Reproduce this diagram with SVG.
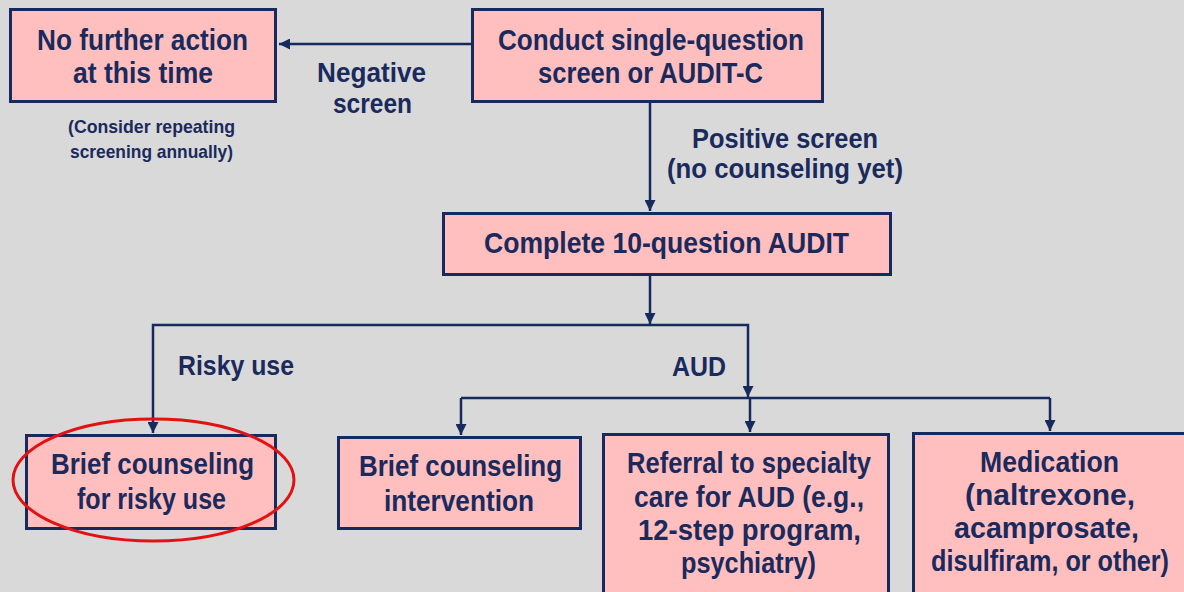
<svg xmlns="http://www.w3.org/2000/svg" width="1184" height="592" viewBox="0 0 1184 592">
<style>
.box{fill:#ffbfbf;stroke:#172a5e;stroke-width:3}
.t{font-family:"Liberation Sans",Arial,sans-serif;font-weight:bold;fill:#1a2a5c;text-anchor:middle;font-size:30px}
.lb{font-size:28px}
.sm{font-size:19px}
.c{fill:none;stroke:#172a5e;stroke-width:2.5}
</style>
<defs>
<marker id="ah" markerUnits="userSpaceOnUse" markerWidth="11" markerHeight="11" refX="10" refY="5" orient="auto" viewBox="0 0 10 10">
<path d="M0,0 L10,5 L0,10 z" fill="#172a5e"/>
</marker>
</defs>
<rect width="1184" height="592" fill="#d9d9d9"/>
<g id="connectors">
<path class="c" d="M471,44 H279" marker-end="url(#ah)"/>
<path class="c" d="M650,103 V211" marker-end="url(#ah)"/>
<path class="c" d="M650,276 V324" marker-end="url(#ah)"/>
<path class="c" d="M650,325 H153 V433" marker-end="url(#ah)"/>
<path class="c" d="M650,325 H748 V397" marker-end="url(#ah)"/>
<path class="c" d="M461,398 H1050"/>
<path class="c" d="M461,398 V435" marker-end="url(#ah)"/>
<path class="c" d="M750,398 V432" marker-end="url(#ah)"/>
<path class="c" d="M1050,398 V431" marker-end="url(#ah)"/>
<text class="t lb" x="371.5" y="82" textLength="109" lengthAdjust="spacingAndGlyphs">Negative</text>
<text class="t lb" x="372.5" y="113" textLength="79" lengthAdjust="spacingAndGlyphs">screen</text>
<text class="t lb" x="785" y="148" textLength="186" lengthAdjust="spacingAndGlyphs">Positive screen</text>
<text class="t lb" x="785" y="178" textLength="236" lengthAdjust="spacingAndGlyphs">(no counseling yet)</text>
<text class="t lb" x="236" y="375" textLength="116" lengthAdjust="spacingAndGlyphs">Risky use</text>
<text class="t lb" x="699" y="376" textLength="54" lengthAdjust="spacingAndGlyphs">AUD</text>
</g>
<g id="n1">
<rect class="box" x="10.5" y="9.5" width="265" height="92"/>
<text class="t" x="142.5" y="50" textLength="211" lengthAdjust="spacingAndGlyphs">No further action</text>
<text class="t" x="143" y="83" textLength="140" lengthAdjust="spacingAndGlyphs">at this time</text>
<text class="t sm" x="151.5" y="133" textLength="167" lengthAdjust="spacingAndGlyphs">(Consider repeating</text>
<text class="t sm" x="151.5" y="158" textLength="163" lengthAdjust="spacingAndGlyphs">screening annually)</text>
</g>
<g id="n2">
<rect class="box" x="472.5" y="9.5" width="350" height="92"/>
<text class="t" x="651" y="50" textLength="306" lengthAdjust="spacingAndGlyphs">Conduct single-question</text>
<text class="t" x="650.5" y="83" textLength="225" lengthAdjust="spacingAndGlyphs">screen or AUDIT-C</text>
</g>
<g id="n3">
<rect class="box" x="443.5" y="213.5" width="447" height="61"/>
<text class="t" x="666.5" y="253" textLength="365" lengthAdjust="spacingAndGlyphs">Complete 10-question AUDIT</text>
</g>
<g id="n4">
<rect class="box" x="26.5" y="435.5" width="249" height="93"/>
<text class="t" x="152.5" y="474" textLength="203" lengthAdjust="spacingAndGlyphs">Brief counseling</text>
<text class="t" x="151.5" y="509" textLength="149" lengthAdjust="spacingAndGlyphs">for risky use</text>
<ellipse cx="153.5" cy="480" rx="140.5" ry="61" fill="none" stroke="#e31212" stroke-width="3"/>
</g>
<g id="n5">
<rect class="box" x="338.5" y="437.5" width="242" height="91"/>
<text class="t" x="460.5" y="476" textLength="203" lengthAdjust="spacingAndGlyphs">Brief counseling</text>
<text class="t" x="459" y="511" textLength="150" lengthAdjust="spacingAndGlyphs">intervention</text>
</g>
<g id="n6">
<rect class="box" x="603.5" y="434.5" width="285" height="170"/>
<text class="t" x="749" y="473" textLength="244" lengthAdjust="spacingAndGlyphs">Referral to specialty</text>
<text class="t" x="749" y="507" textLength="230" lengthAdjust="spacingAndGlyphs">care for AUD (e.g.,</text>
<text class="t" x="749.5" y="540" textLength="223" lengthAdjust="spacingAndGlyphs">12-step program,</text>
<text class="t" x="748.5" y="573" textLength="135" lengthAdjust="spacingAndGlyphs">psychiatry)</text>
</g>
<g id="n7">
<rect class="box" x="913.5" y="433.5" width="280" height="170"/>
<text class="t" x="1049.5" y="472" textLength="139" lengthAdjust="spacingAndGlyphs">Medication</text>
<text class="t" x="1050" y="505" textLength="170" lengthAdjust="spacingAndGlyphs">(naltrexone,</text>
<text class="t" x="1046.5" y="538" textLength="185" lengthAdjust="spacingAndGlyphs">acamprosate,</text>
<text class="t" x="1050" y="571" textLength="238" lengthAdjust="spacingAndGlyphs">disulfiram, or other)</text>
</g>
</svg>
